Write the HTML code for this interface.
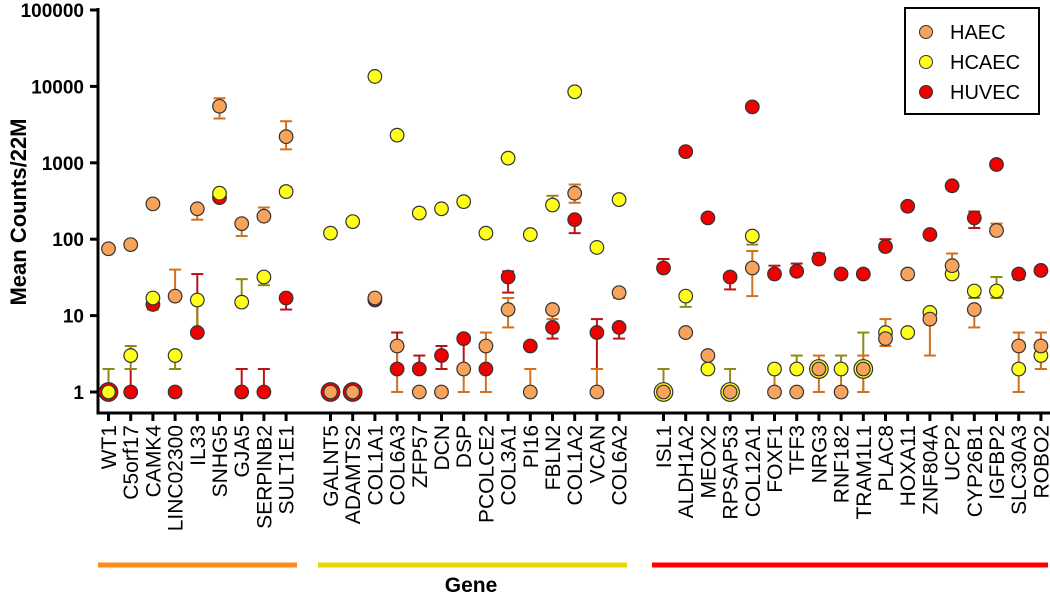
<!DOCTYPE html>
<html><head><meta charset="utf-8"><style>
body{margin:0;background:#fff}
svg{display:block;font-family:"Liberation Sans",Arial,sans-serif}
</style></head><body>
<svg id="chart" width="1050" height="595" viewBox="0 0 1050 595">
<g id="axes"></g><g id="bars"></g><g id="pts"></g>
<g>
<rect x="905" y="8" width="134" height="106" fill="#fff" stroke="#000" stroke-width="2"/>
<g><circle cx="926" cy="32" r="6.5" fill="#f7a35c" stroke="#333"/><text x="950" y="39" font-size="20">HAEC</text></g>
<g><circle cx="926" cy="62" r="6.5" fill="#ffff1a" stroke="#333"/><text x="950" y="69" font-size="20">HCAEC</text></g>
<g><circle cx="926" cy="92" r="6.5" fill="#f00000" stroke="#333"/><text x="950" y="99" font-size="20">HUVEC</text></g>
</g>
<text transform="translate(26,212) rotate(-90)" text-anchor="middle" font-size="22" font-weight="bold">Mean Counts/22M</text>
<text x="471" y="592" text-anchor="middle" font-size="21" font-weight="bold">Gene</text>
<line x1="98" y1="565" x2="297" y2="565" stroke="#ff8a1a" stroke-width="5"/>
<line x1="318" y1="565" x2="627" y2="565" stroke="#e6d800" stroke-width="5"/>
<line x1="652" y1="565" x2="1048" y2="565" stroke="#ff0000" stroke-width="5"/>
</svg>
<script>
const genes=["WT1","C5orf17","CAMK4","LINC02300","IL33","SNHG5","GJA5","SERPINB2","SULT1E1",null,"GALNT5","ADAMTS2","COL1A1","COL6A3","ZFP57","DCN","DSP","PCOLCE2","COL3A1","PI16","FBLN2","COL1A2","VCAN","COL6A2",null,"ISL1","ALDH1A2","MEOX2","RPSAP53","COL12A1","FOXF1","TFF3","NRG3","RNF182","TRAM1L1","PLAC8","HOXA11","ZNF804A","UCP2","CYP26B1","IGFBP2","SLC30A3","ROBO2"];
const haec=[75,85,290,18,250,5500,160,200,2200,null,1,1,17,4,1,1,2,4,12,1,12,400,1,20,null,1,6,3,1,42,1,1,2,1,2,5,35,9,45,12,130,4,4];
const haecLo=[null,null,null,18,180,3800,110,200,1500,null,null,null,null,1,null,null,1,1,7,1,9,300,1,17,null,null,null,null,null,18,1,null,1,1,1,4,null,3,45,7,130,1,2];
const haecHi=[null,null,null,40,250,7000,160,260,3500,null,null,null,null,4.5,null,null,2,6,17,2,12,520,2,20,null,null,null,null,null,70,2,null,3,2,3,9,null,12,65,12,160,6,6];
const hcaec=[1,3,17,3,16,400,15,32,420,null,120,170,13500,2300,220,250,310,120,1150,115,280,8500,78,330,null,1,18,2,1,110,2,2,2,2,2,6,6,11,35,21,21,2,3];
const hcaecLo=[1,2,12,2,6.5,null,15,25,420,null,null,null,null,null,null,null,null,null,null,null,280,null,null,null,null,1,13,2,1,85,null,2,null,2,1,null,null,9,null,17,17,null,2];
const hcaecHi=[2,4,17,3,16,null,30,32,480,null,null,null,null,null,null,null,null,null,null,null,370,null,null,null,null,2,18,2.2,2,110,null,3,null,3,6,null,null,11,null,21,32,null,3];
const huvec=[1,1,14,1,6,350,1,1,17,null,1,1,16,2,2,3,5,2,32,4,7,180,6,7,null,42,1400,190,32,5400,35,38,55,35,35,80,270,115,500,190,950,35,39];
const huvecLo=[null,1,null,null,6,null,1,1,12,null,null,null,null,2,2,2,2,2,20,4,5,120,2,5,null,42,null,null,22,null,35,38,55,null,null,80,null,null,null,140,null,30,null];
const huvecHi=[null,2,null,null,35,null,2,2,17,null,null,null,null,6,3,4,5,2,38,4.3,7,180,9,7,null,55,null,null,32,null,45,48,65,null,null,100,null,null,null,230,null,35,null];
const yTicks=[1,10,100,1000,10000,100000];

const NS="http://www.w3.org/2000/svg";
const X0=108.5,DX=22.2;
const xs=i=>X0+i*DX;
const ys=v=>392-76.4*Math.log10(v);
function mk(tag,at,parent){const e=document.createElementNS(NS,tag);for(const k in at)e.setAttribute(k,at[k]);parent.appendChild(e);return e;}
const axes=document.getElementById('axes'),bars=document.getElementById('bars'),pts=document.getElementById('pts');
const ya=mk('line',{x1:98,y1:8,x2:98,y2:414,stroke:'#000','stroke-width':3},axes);


const xa=mk('line',{x1:96.5,y1:413,x2:1050,y2:413,stroke:'#000','stroke-width':3},axes);


yTicks.forEach(v=>{
  mk('line',{x1:90,y1:ys(v),x2:98,y2:ys(v),stroke:'#000','stroke-width':3},axes);
  const t=mk('text',{x:84,y:ys(v)+7,'text-anchor':'end','font-size':19,'font-weight':'bold'},axes);
  t.textContent=v;
  
  
});
genes.forEach((g,i)=>{
  if(g===null)return;
  const x=xs(i);
  mk('line',{x1:x,y1:413,x2:x,y2:421,stroke:'#000','stroke-width':3},axes);
  const t=mk('text',{transform:`translate(${x+7.5},425) rotate(-90)`,'text-anchor':'end','font-size':21},axes);
  t.textContent=g;
  
  
});
const series=[
 {name:'huvec',v:huvec,lo:huvecLo,hi:huvecHi,fill:'#f00000',bar:'#b81414'},
 {name:'hcaec',v:hcaec,lo:hcaecLo,hi:hcaecHi,fill:'#ffff1a',bar:'#8c8c14'},
 {name:'haec',v:haec,lo:haecLo,hi:haecHi,fill:'#f7a35c',bar:'#d2701e'}
];
series.forEach((s,si)=>{
  s.v.forEach((v,i)=>{
    if(v===null)return;
    const x=xs(i);
    const lo=s.lo[i],hi=s.hi[i];
    if(lo!==null&&hi!==null){
      const e=mk('g',{stroke:s.bar,'stroke-width':2},bars);
      
      
      mk('line',{x1:x,y1:ys(lo),x2:x,y2:ys(hi)},e);
      if(Math.abs(lo-v)/v>0.01)mk('line',{x1:x-6,y1:ys(lo),x2:x+6,y2:ys(lo)},e);
      if(Math.abs(hi-v)/v>0.01)mk('line',{x1:x-6,y1:ys(hi),x2:x+6,y2:ys(hi)},e);
    }
    let r=6.8;
    for(let k=si+1;k<series.length;k++){const o=series[k].v[i];if(o!==null&&Math.abs(o-v)/v<0.01)r=9.3;}
    const c=mk('circle',{cx:x,cy:ys(v),r:r,fill:s.fill,stroke:'#333','stroke-width':1.2},pts);
    
    
  });
});
</script>
</body></html>
